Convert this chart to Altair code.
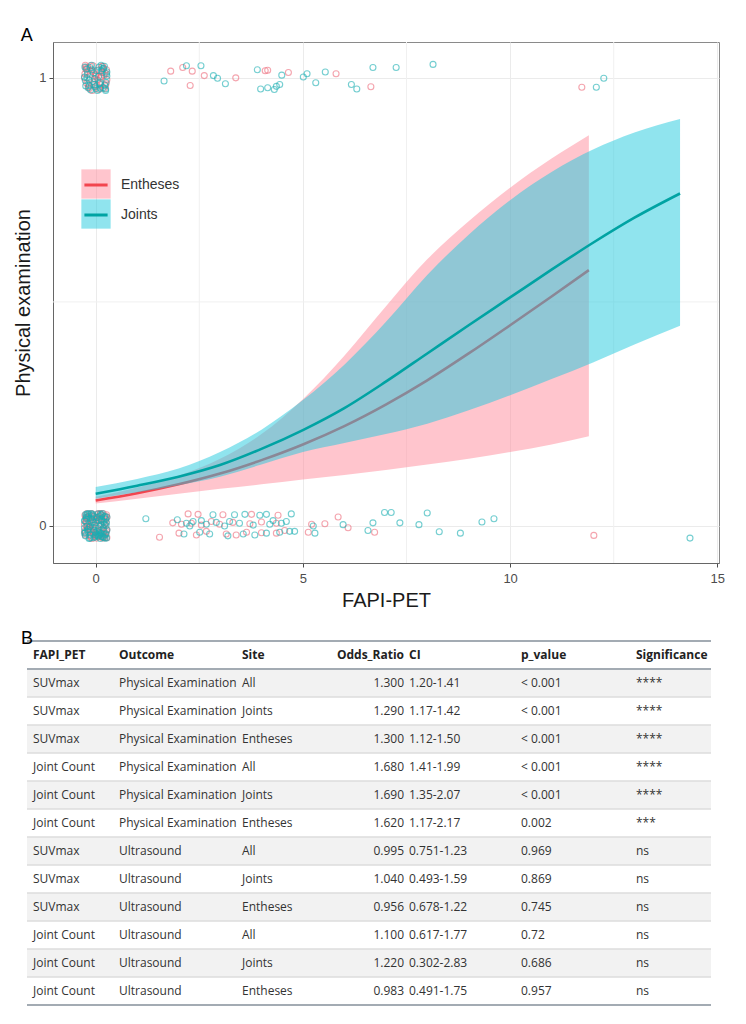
import altair as alt
import pandas as pd

# ---------------- scatter points ----------------
ent0c_x = [-0.26, -0.12, 0.05, 0.21, -0.2, 0.14, 0.27, -0.05, 0.09, -0.23, 0.18, -0.15, 0.02, 0.25, -0.08,
           0.12, -0.27, 0.06, -0.18, 0.23, -0.02, 0.16, -0.11, 0.27, -0.21, 0.08, -0.06, 0.19, -0.25, 0.11,
           0.0, -0.16, 0.24, -0.09, 0.15, -0.24, 0.04, 0.22, -0.13, 0.07, -0.19, 0.26, -0.03, 0.13, -0.1,
           -0.22, 0.03, 0.2, -0.14, 0.26, -0.04, 0.11, -0.27, 0.17, -0.09, 0.24, -0.18, 0.06, -0.01, 0.22,
           -0.25, 0.14, -0.11, 0.01, 0.19, -0.2, 0.09, -0.07, 0.27, -0.16, 0.13, -0.23, 0.04, 0.18, -0.12]
ent0c_y = [0.024, -0.01, 0.027, -0.022, 0.004, 0.015, -0.026, -0.018, 0.02, 0.011, -0.005, 0.026, -0.027, 0.009, 0.006,
           -0.015, -0.012, -0.024, 0.018, 0.022, 0.013, -0.02, -0.025, -0.008, 0.028, 0.001, 0.023, -0.013, -0.02, 0.027,
           -0.006, 0.008, -0.017, -0.028, 0.017, 0.019, -0.022, 0.003, -0.009, 0.012, -0.003, 0.025, -0.014, -0.024, 0.028,
           -0.001, 0.018, 0.01, -0.022, -0.012, -0.009, 0.028, 0.004, -0.027, 0.021, 0.016, -0.007, 0.011, -0.021, -0.026,
           -0.016, 0.002, 0.014, 0.019, -0.004, 0.02, -0.019, -0.014, 0.019, -0.002, 0.024, 0.009, -0.012, 0.028, 0.001]
ent1c_x = [-0.24, 0.12, -0.06, 0.2, -0.15, 0.05, 0.26, -0.27, 0.15, -0.02, 0.23, -0.19, 0.08, -0.1, 0.27,
           -0.22, 0.01, 0.17, -0.13, 0.1, -0.25, 0.22, -0.04, 0.14, -0.17,
           0.03, -0.2, 0.19, -0.08, 0.25, -0.26, 0.11, -0.13, 0.06, 0.21, -0.03, -0.18, 0.16, -0.23, 0.0]
ent1c_y = [1.02, 0.985, 1.027, 1.006, 0.976, 0.995, 1.018, 1.0, 1.025, 1.012, 0.982, 1.022, 0.974, 1.015, 0.996,
           0.988, 1.004, 1.026, 1.008, 0.979, 1.028, 1.011, 0.99, 1.003, 0.98,
           0.983, 1.014, 1.021, 0.972, 0.987, 1.009, 1.001, 1.027, 1.017, 0.976, 0.997, 0.986, 1.012, 1.024, 1.007]
ent0_x = [1.54, 1.86, 2.01, 2.07, 2.23, 2.31, 2.43, 2.47, 2.55, 2.67, 2.79, 2.99, 3.07, 3.15, 3.31, 3.39,
          3.64, 3.72, 3.76, 4.0, 4.0, 4.36, 4.4, 4.56, 4.36, 5.13, 5.21, 5.53, 5.85, 6.09, 6.73, 12.02]
ent0_y = [-0.025, 0.007, -0.016, 0.004, 0.027, 0.006, -0.02, 0.026, 0.002, -0.012, 0.01, 0.004, 0.025, -0.018, 0.008, -0.02,
          -0.014, 0.005, 0.026, -0.015, 0.009, -0.016, 0.024, -0.01, 0.006, -0.014, 0.004, 0.005, 0.02, -0.004, -0.014, -0.021]
ent1_x = [1.81, 2.1, 2.33, 2.28, 2.62, 3.38, 4.09, 4.15, 4.65, 5.8, 6.64, 11.73]
ent1_y = [1.015, 1.023, 1.015, 0.983, 1.005, 1.0, 1.016, 1.017, 1.012, 1.009, 0.98, 0.979]

jnt0c_x = [0.1, -0.22, 0.26, -0.07, 0.17, -0.27, 0.03, 0.22, -0.14, 0.08, -0.2, 0.13, -0.03, 0.27, -0.17,
           0.06, -0.25, 0.19, -0.1, 0.24, 0.0, -0.13, 0.15, -0.26, 0.09, -0.05, 0.21, -0.19, 0.04, 0.26,
           -0.08, 0.12, -0.23, 0.18, -0.01, -0.16, 0.23, -0.11, 0.07, -0.27, 0.16, -0.04, 0.2, -0.21, 0.11,
           0.0, -0.18, 0.25, 0.12, -0.24, 0.05, -0.12, 0.2, -0.06, 0.16, -0.27, 0.08, -0.15, 0.27, -0.02,
           0.22, -0.2, 0.14, -0.09, 0.02, -0.25, 0.19, -0.04, 0.1, -0.22, 0.25, -0.13, 0.06, -0.17, 0.15]
jnt0c_y = [-0.02, 0.016, 0.007, 0.026, -0.024, -0.004, -0.012, 0.021, -0.027, 0.012, 0.027, -0.017, 0.002, -0.009, 0.022,
           0.027, -0.022, -0.025, 0.007, 0.015, -0.02, -0.001, 0.025, 0.011, -0.009, -0.026, 0.004, -0.013, 0.019, -0.027,
           0.014, 0.026, 0.023, -0.006, -0.014, -0.028, -0.019, 0.028, -0.023, -0.016, 0.01, 0.021, 0.02, 0.0, -0.028,
           0.008, -0.008, -0.018, 0.003, 0.026, -0.021, 0.017, -0.011, 0.009, 0.028, 0.012, -0.014, -0.002, 0.02, -0.024,
           -0.027, -0.008, 0.013, 0.024, -0.017, -0.014, 0.009, -0.009, 0.022, 0.019, 0.001, -0.02, -0.005, 0.027, -0.023]
jnt1c_x = [0.18, -0.2, 0.04, -0.26, 0.25, -0.09, 0.11, -0.16, 0.27, -0.03, 0.21, -0.24, 0.07, -0.12, 0.16,
           -0.27, 0.02, 0.24, -0.07, 0.13, -0.21, 0.09, -0.14, 0.26, -0.01,
           -0.05, 0.22, -0.18, 0.14, -0.25, 0.08, 0.27, -0.1, 0.01, -0.22, 0.19, -0.15, 0.11, 0.24, -0.02]
jnt1c_y = [0.978, 1.008, 0.972, 1.024, 0.99, 1.018, 0.976, 0.995, 1.013, 0.985, 1.026, 0.982, 1.003, 0.973, 1.02,
           1.002, 1.016, 0.975, 0.992, 1.028, 1.0, 0.987, 1.023, 1.009, 0.98,
           1.011, 0.984, 0.978, 1.016, 0.994, 1.024, 1.004, 1.028, 0.976, 1.019, 1.021, 0.983, 0.989, 0.972, 0.998]
jnt0_x = [1.21, 1.97, 2.13, 2.19, 2.27, 2.35, 2.51, 2.55, 2.67, 2.75, 2.83, 2.91, 3.11, 3.19, 3.23, 3.35,
          3.47, 3.56, 3.6, 3.8, 3.84, 3.96, 4.12, 4.12, 4.2, 4.28, 4.44, 4.48, 4.6, 4.68, 4.72, 4.8,
          5.25, 5.29, 5.97, 6.57, 6.69, 6.97, 7.13, 7.34, 7.8, 8.0, 8.29, 8.8, 9.32, 9.61, 14.34]
jnt0_y = [0.016, 0.014, -0.018, 0.006, 0.0, 0.01, -0.014, 0.012, 0.004, -0.018, 0.025, 0.008, 0.0, -0.022, 0.01, 0.025,
          0.006, -0.018, 0.026, 0.002, -0.02, 0.024, 0.026, -0.016, 0.004, 0.012, -0.014, 0.006, 0.01, -0.012, 0.027, -0.012,
          0.0, -0.016, 0.003, -0.01, 0.007, 0.03, 0.03, 0.007, 0.003, 0.029, -0.013, -0.016, 0.009, 0.016, -0.027]
jnt1_x = [1.65, 2.19, 2.54, 2.84, 2.94, 3.13, 3.9, 3.98, 4.15, 4.31, 4.36, 4.44, 4.49, 5.01, 5.1, 5.31,
          5.54, 6.17, 6.3, 6.69, 7.25, 8.14, 12.08, 12.26]
jnt1_y = [0.993, 1.027, 1.027, 1.005, 0.999, 0.987, 1.018, 0.975, 0.978, 0.974, 0.981, 0.985, 1.006, 1.002, 1.009, 0.989,
          1.013, 0.985, 0.975, 1.023, 1.023, 1.03, 0.979, 0.999]

# ---------------- fitted curves and confidence bands ----------------
ent_cx = [0, 1, 2, 3, 4, 5, 6, 7, 8, 9, 10, 11, 11.9]
ent_fit = [0.057, 0.073, 0.093, 0.117, 0.147, 0.182, 0.223, 0.271, 0.325, 0.385, 0.448, 0.512, 0.571]
ent_lo = [0.050, 0.061, 0.072, 0.083, 0.093, 0.104, 0.114, 0.125, 0.137, 0.150, 0.165, 0.182, 0.200]
ent_hi = [0.065, 0.086, 0.112, 0.150, 0.205, 0.283, 0.380, 0.490, 0.595, 0.680, 0.755, 0.820, 0.872]

jnt_cx = [0, 1, 2, 3, 4, 5, 6, 7, 8, 9, 10, 11, 12, 13, 14.1]
jnt_fit = [0.072, 0.090, 0.110, 0.136, 0.172, 0.214, 0.263, 0.322, 0.385, 0.448, 0.510, 0.572, 0.632, 0.688, 0.742]
jnt_lo = [0.061, 0.075, 0.091, 0.110, 0.137, 0.165, 0.185, 0.205, 0.228, 0.258, 0.292, 0.328, 0.365, 0.405, 0.447]
jnt_hi = [0.087, 0.105, 0.128, 0.165, 0.215, 0.281, 0.360, 0.455, 0.560, 0.650, 0.727, 0.790, 0.840, 0.878, 0.908]

sites = ["Entheses", "Joints"]
minor_x = [2.5, 7.5, 12.5]
minor_y = [0.5]

# ---------------- table ----------------
col_names = ["FAPI_PET", "Outcome", "Site", "Odds_Ratio", "CI", "p_value", "Significance"]
fapi = ["SUVmax", "SUVmax", "SUVmax", "Joint Count", "Joint Count", "Joint Count",
        "SUVmax", "SUVmax", "SUVmax", "Joint Count", "Joint Count", "Joint Count"]
outcome = ["Physical Examination"] * 6 + ["Ultrasound"] * 6
site = ["All", "Joints", "Entheses"] * 4
odds = ["1.300", "1.290", "1.300", "1.680", "1.690", "1.620", "0.995", "1.040", "0.956", "1.100", "1.220", "0.983"]
ci = ["1.20-1.41", "1.17-1.42", "1.12-1.50", "1.41-1.99", "1.35-2.07", "1.17-2.17",
      "0.751-1.23", "0.493-1.59", "0.678-1.22", "0.617-1.77", "0.302-2.83", "0.491-1.75"]
pval = ["< 0.001", "< 0.001", "< 0.001", "< 0.001", "< 0.001", "0.002", "0.969", "0.869", "0.745", "0.72", "0.686", "0.957"]
sig = ["****", "****", "****", "****", "****", "***", "ns", "ns", "ns", "ns", "ns", "ns"]
rule_rows = [-0.5, 0.5, 12.5]

# ================= build data frames =================
ent_pts = pd.DataFrame({"x": ent0c_x + ent1c_x + ent0_x + ent1_x,
                        "y": ent0c_y + ent1c_y + ent0_y + ent1_y})
jnt_pts = pd.DataFrame({"x": jnt0c_x + jnt1c_x + jnt0_x + jnt1_x,
                        "y": jnt0c_y + jnt1c_y + jnt0_y + jnt1_y})
curves = pd.DataFrame({
    "x": ent_cx + jnt_cx,
    "fit": ent_fit + jnt_fit,
    "lo": ent_lo + jnt_lo,
    "hi": ent_hi + jnt_hi,
    "Site": ["Entheses"] * len(ent_cx) + ["Joints"] * len(jnt_cx),
})

AX_FONT = "Liberation Sans"
xs = alt.Scale(domain=[-1.03, 15.04], nice=False, zero=False)
ys = alt.Scale(domain=[-0.0826, 1.080], nice=False, zero=False)
x_axis = alt.Axis(values=[0, 5, 10, 15], format="d", title="FAPI-PET",
                  titleFont=AX_FONT, titleFontSize=20, titleFontWeight="normal", titleColor="#1a1a1a",
                  titlePadding=5, labelFont=AX_FONT, labelFontSize=13, labelColor="#4d4d4d",
                  labelPadding=5, tickColor="#4d4d4d", tickSize=4, gridColor="#EBEBEB",
                  domainColor="#666666")
y_axis = alt.Axis(values=[0, 1], format="d", title="Physical examination",
                  titleFont=AX_FONT, titleFontSize=20, titleFontWeight="normal", titleColor="#1a1a1a",
                  titlePadding=5, labelFont=AX_FONT, labelFontSize=13, labelColor="#4d4d4d",
                  labelPadding=3, tickColor="#4d4d4d", tickSize=4, gridColor="#EBEBEB",
                  domainColor="#666666")


def X(f="x"):
    return alt.X(f"{f}:Q", scale=xs, axis=x_axis)


def Y(f):
    return alt.Y(f"{f}:Q", scale=ys, axis=y_axis)


band_legend = alt.Legend(title=None, orient="none", legendX=28, legendY=127, symbolType="square",
                         symbolSize=858, symbolOpacity=0.5, symbolStrokeWidth=0, labelExpr="''",
                         labelFont=AX_FONT, labelFontSize=14, labelOffset=9, rowPadding=0, padding=0)
line_legend = alt.Legend(title=None, orient="none", legendX=27, legendY=127, symbolType="M-0.8,0H0.8",
                         symbolSize=841, symbolStrokeWidth=3, labelFont=AX_FONT, labelFontSize=14,
                         labelColor="#333333", labelOffset=9, rowPadding=7, padding=0)

band_scale = alt.Scale(domain=sites, range=["#FF8B9B", "#21C9DD"])
line_scale = alt.Scale(domain=[s + " " for s in sites], range=["#F2454E", "#00A3A3"])

grid_x = alt.Chart(pd.DataFrame({"gx": minor_x})).mark_rule(color="#F0F0F0", strokeWidth=1).encode(x=X("gx"))
grid_y = alt.Chart(pd.DataFrame({"gy": minor_y})).mark_rule(color="#F0F0F0", strokeWidth=1).encode(y=Y("gy"))

pts_e = alt.Chart(ent_pts).mark_point(filled=False, size=36, strokeWidth=1.1, opacity=0.6,
                                      color="#EE6A7A").encode(x=X("x"), y=Y("y"))
pts_j = alt.Chart(jnt_pts).mark_point(filled=False, size=36, strokeWidth=1.1, opacity=0.6,
                                      color="#1AAFB3").encode(x=X("x"), y=Y("y"))


def band(s):
    return alt.Chart(curves).transform_filter(alt.datum.Site == s).mark_area(
        opacity=0.5, interpolate="monotone").encode(
        x=X("x"), y=Y("lo"), y2=alt.Y2("hi:Q"),
        color=alt.Color("Site:N", scale=band_scale, legend=band_legend),
    )


def fitline(s):
    return alt.Chart(curves).transform_filter(alt.datum.Site == s).transform_calculate(
        SiteL="datum.Site + ' '").mark_line(strokeWidth=2.6, interpolate="monotone").encode(
        x=X("x"), y=Y("fit"),
        stroke=alt.Stroke("SiteL:N", scale=line_scale, legend=line_legend),
    )


plot = alt.layer(
    grid_x, grid_y, pts_e, pts_j,
    band("Entheses"), fitline("Entheses"),
    band("Joints"), fitline("Joints"),
).properties(
    width=666, height=521,
    title=alt.TitleParams("A", anchor="start", frame="bounds", fontSize=18, fontWeight="normal",
                          font=AX_FONT, color="#000000", dx=7, dy=-4, offset=-7),
    view=alt.ViewBackground(stroke="#8a8a8a", strokeWidth=1),
)

# ---------------- table chart ----------------
tbl = pd.DataFrame({
    "row": list(range(1, 13)),
    "FAPI_PET": fapi, "Outcome": outcome, "Site": site, "Odds_Ratio": odds,
    "CI": ci, "p_value": pval, "Significance": sig,
})
TH = 382
ty = alt.Scale(domain=[-30 / 28, -30 / 28 + TH / 28], reverse=True, nice=False, zero=False)
TFONT = "Open Sans"
TSIZE = 12
TL, TR = -26, 658

shade = alt.Chart(tbl).transform_filter("datum.row % 2 == 1").transform_calculate(
    top="datum.row - 0.5", bot="datum.row + 0.5").mark_rect(fill="#F2F2F2").encode(
    x=alt.value(TL), x2=alt.value(TR),
    y=alt.Y("top:Q", scale=ty, axis=None), y2="bot:Q")

seps = alt.Chart(tbl).transform_filter("datum.row < 12").transform_calculate(
    edge="datum.row + 0.5").mark_rule(color="#DCDCDC", strokeWidth=1.5).encode(
    x=alt.value(TL), x2=alt.value(TR), y=alt.Y("edge:Q", scale=ty, axis=None))

thick = alt.Chart(pd.DataFrame({"edge": rule_rows})).mark_rule(color="#A3ABB3", strokeWidth=2).encode(
    x=alt.value(TL), x2=alt.value(TR), y=alt.Y("edge:Q", scale=ty, axis=None))

col_x = {"FAPI_PET": -20, "Outcome": 66, "Site": 189, "Odds_Ratio": 351, "CI": 356,
         "p_value": 468, "Significance": 583}
col_align = {"Odds_Ratio": "right"}

layers = [shade, seps, thick]
hdr = pd.DataFrame({"name": col_names, "row": [0] * len(col_names)})
for c in col_names:
    al = col_align.get(c, "left")
    layers.append(
        alt.Chart(hdr).transform_filter(alt.datum.name == c).mark_text(
            align=al, baseline="middle", font=TFONT, fontSize=TSIZE, fontWeight="bold", color="#222222").encode(
            x=alt.value(col_x[c]), y=alt.Y("row:Q", scale=ty, axis=None), text="name:N"))
    layers.append(
        alt.Chart(tbl).mark_text(
            align=al, baseline="middle", font=TFONT, fontSize=TSIZE, color="#333333").encode(
            x=alt.value(col_x[c]), y=alt.Y("row:Q", scale=ty, axis=None), text=f"{c}:N"))

blabel = alt.Chart(pd.DataFrame({"t": ["B"]})).mark_text(
    align="left", baseline="middle", font=AX_FONT, fontSize=18, color="#000000").encode(
    x=alt.value(-32), y=alt.value(14), text="t:N")
layers.append(blabel)

table = alt.layer(*layers).properties(width=TR, height=TH)

chart = alt.vconcat(plot, table, spacing=14).configure(
    padding={"left": 5, "top": 18, "right": 5, "bottom": 2},
).configure_view(strokeWidth=0)

chart.save("out.html", embed_options={"renderer": "svg", "actions": False})
